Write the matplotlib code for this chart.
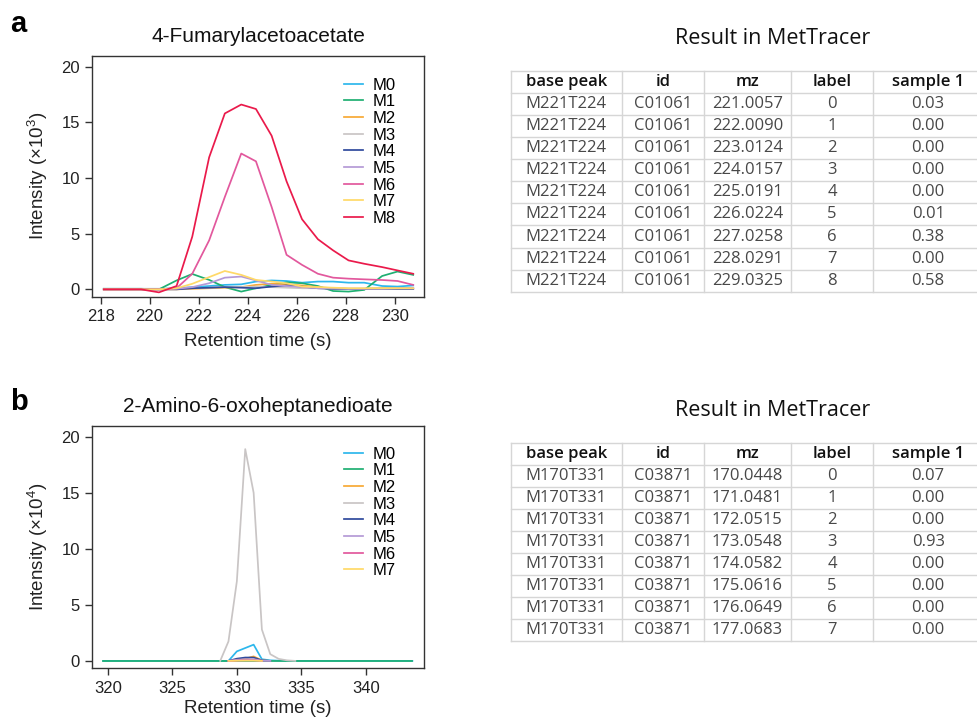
import numpy as np
import matplotlib
matplotlib.use('Agg')
import matplotlib.pyplot as plt

plt.rcParams['font.family'] = ['Liberation Sans', 'DejaVu Sans']
plt.rcParams['mathtext.fontset'] = 'custom'
plt.rcParams['mathtext.rm'] = 'Liberation Sans'

nan = np.nan

# ---- panel a: 4-Fumarylacetoacetate (intensity x10^3) ----
t_a = [218.13, 218.9, 219.65, 220.38, 221.10, 221.74, 222.43, 223.07, 223.74, 224.34,
       224.98, 225.59, 226.22, 226.87, 227.49, 228.12, 228.76, 229.49, 230.12, 230.76]
a_M0 = [0.05, 0.05, 0.05, 0.05, 0.1, 0.2, 0.3, 0.4, 0.45, 0.7, 0.8, 0.75, 0.6, 0.7, 0.7, 0.6, 0.6, 0.3, 0.25, 0.35]
a_M1 = [0.05, 0.05, 0.05, 0.0, 0.8, 1.38, 0.85, 0.2, -0.2, 0.1, 0.4, 0.63, 0.55, 0.3, -0.15, -0.2, -0.05, 1.2, 1.6, 1.3]
a_M2 = [0, 0, 0, 0, 0, 0.05, 0.1, 0.15, 0.2, 0.4, 0.5, 0.45, 0.35, 0.2, 0.1, 0.05, 0.05, 0.1, 0.1, 0.1]
a_M3 = [0, 0, 0, 0, 0.05, 0.1, 0.15, 0.2, 0.2, 0.25, 0.2, 0.15, 0.1, 0.1, 0.05, 0.05, 0.05, 0.05, 0.05, 0.05]
a_M4 = [0, 0, 0, 0, 0, 0.1, 0.15, 0.2, 0.15, 0.1, 0.25, 0.35, 0.25, 0.1, 0.05, 0.05, 0.05, 0.05, 0.05, 0.05]
a_M5 = [0, 0, 0, 0, 0.05, 0.2, 0.55, 1.05, 1.15, 0.8, 0.4, 0.3, 0.2, 0.1, 0.1, 0.05, 0.05, 0.05, 0.1, 0.1]
a_M6 = [0, 0, 0, 0, 0.1, 1.4, 4.4, 8.3, 12.2, 11.5, 7.4, 3.1, 2.2, 1.4, 1.05, 0.96, 0.9, 0.84, 0.75, 0.4]
a_M7 = [0, 0, 0, 0, 0.1, 0.5, 1.1, 1.65, 1.3, 0.85, 0.7, 0.55, 0.25, 0.2, 0.15, 0.1, 0.1, 0.1, 0.1, 0.1]
a_M8 = [0, 0, 0, -0.27, 0.3, 4.73, 11.86, 15.8, 16.6, 16.2, 13.8, 9.7, 6.3, 4.5, 3.5, 2.6, 2.3, 2.0, 1.7, 1.4]
series_a = [a_M0, a_M1, a_M2, a_M3, a_M4, a_M5, a_M6, a_M7, a_M8]

# ---- panel b: 2-Amino-6-oxoheptanedioate (intensity x10^4) ----
t_b = [319.65, 328.06, 328.71, 329.35, 330.0, 330.65, 331.3, 331.94, 332.59, 333.24, 333.88, 334.53, 343.6]
b_M0 = [0, 0, 0, 0, 0.85, 1.15, 1.45, 0.15, 0.05, 0.02, 0, 0, 0]
b_M1 = [0, 0, 0, 0, 0, 0, 0, 0, 0, 0, 0, 0, 0]
b_M2 = [nan, nan, nan, 0, 0.05, 0.2, 0.4, 0.05, 0, nan, nan, nan, nan]
b_M3 = [nan, nan, 0, 1.74, 7.1, 18.9, 15.0, 2.8, 0.6, 0.18, 0.05, 0, nan]
b_M4 = [nan, nan, nan, 0, 0.2, 0.3, 0.3, 0.05, 0, nan, nan, nan, nan]
b_M5 = [nan, nan, nan, 0, 0.1, 0.15, 0.15, 0.02, 0, nan, nan, nan, nan]
b_M6 = [nan, nan, nan, 0, 0.03, 0.05, 0.05, 0, nan, nan, nan, nan, nan]
b_M7 = [nan, nan, nan, 0, 0.02, 0.03, 0.03, 0, nan, nan, nan, nan, nan]
series_b = [b_M0, b_M1, b_M2, b_M3, b_M4, b_M5, b_M6, b_M7]

labels = ['M0', 'M1', 'M2', 'M3', 'M4', 'M5', 'M6', 'M7', 'M8']
colors = ['#2DB7EC', '#1FAF72', '#F7A935', '#C9C5C5', '#2F4A9C',
          '#B59AD6', '#E2589D', '#FFD968', '#EA1A4B']

# ---- tables ----
base_a = ['M221T224'] * 9
id_a = ['C01061'] * 9
mz_a = ['221.0057', '222.0090', '223.0124', '224.0157', '225.0191',
        '226.0224', '227.0258', '228.0291', '229.0325']
label_a = ['0', '1', '2', '3', '4', '5', '6', '7', '8']
sample_a = ['0.03', '0.00', '0.00', '0.00', '0.00', '0.01', '0.38', '0.00', '0.58']

base_b = ['M170T331'] * 8
id_b = ['C03871'] * 8
mz_b = ['170.0448', '171.0481', '172.0515', '173.0548', '174.0582',
        '175.0616', '176.0649', '177.0683']
label_b = ['0', '1', '2', '3', '4', '5', '6', '7']
sample_b = ['0.07', '0.00', '0.00', '0.93', '0.00', '0.00', '0.00', '0.00']

header = ['base peak', 'id', 'mz', 'label', 'sample 1']

W, H = 977, 722
fig = plt.figure(figsize=(W / 100, H / 100), dpi=100)


def px_axes(left, top, right, bottom):
    return fig.add_axes([left / W, 1 - bottom / H, (right - left) / W, (bottom - top) / H])


def style_chrom(ax, title, ylabel, xlim, ylim, xticks, label_top, leg_top):
    ax.set_xlim(*xlim)
    ax.set_ylim(*ylim)
    ax.set_xticks(xticks)
    ax.set_yticks([0, 5, 10, 15, 20])
    for s in ax.spines.values():
        s.set_color('#333333')
        s.set_linewidth(1.0)
    ax.tick_params(direction='out', length=5, width=1, color='#333333',
                   labelsize=12, labelcolor='#222222', pad=4)
    ax.set_title(title, fontsize=15, pad=10, color='#111111')
    ax.set_ylabel(ylabel, fontsize=13.5, color='#222222')
    ax.set_xlabel('Retention time (s)', fontsize=13.5, color='#222222')
    ax.yaxis.set_label_coords(-0.128, 0.5)
    ax.xaxis.set_label_coords(0.5, label_top)
    ax.legend(loc='upper left', bbox_to_anchor=(0.758, leg_top), frameon=False,
              fontsize=12, handlelength=1.15, handletextpad=0.6, labelspacing=0.1,
              borderpad=0, borderaxespad=0)


ax1 = px_axes(92.3, 56, 424, 296.7)
for ys, lab, c in zip(series_a, labels, colors):
    ax1.plot(t_a, ys, color=c, lw=1.25, label=lab)
style_chrom(ax1, '4-Fumarylacetoacetate', 'Intensity (×10$^{\\mathregular{3}}$)',
            (217.66, 231.2), (-0.66, 20.96), [218, 220, 222, 224, 226, 228, 230], -0.15, 0.91)

ax2 = px_axes(92.3, 426, 424, 668.3)
for ys, lab, c in zip(series_b, labels, colors):
    ax2.plot(t_b, ys, color=c, lw=1.25, label=lab)
style_chrom(ax2, '2-Amino-6-oxoheptanedioate', 'Intensity (×10$^{\\mathregular{4}}$)',
            (318.8, 344.5), (-0.66, 20.96), [320, 325, 330, 335, 340], -0.13, 0.915)

# panel letters
fig.text(10 / W, 1 - 24 / H, 'a', fontsize=21, fontweight='bold', va='center')
fig.text(10 / W, 1 - 402 / H, 'b', fontsize=21, fontweight='bold', va='center')

# tables drawn on a pixel-coordinate overlay
tab = fig.add_axes([0, 0, 1, 1])
tab.set_xlim(0, W)
tab.set_ylim(H, 0)
tab.axis('off')

col_edges = [510.7, 621.7, 704, 790.7, 873.3, 983]
tfont = ['Open Sans', 'DejaVu Sans']


def draw_table(top, row_h, cols, title_y):
    nrows = len(cols[0]) + 1
    bottom = top + nrows * row_h
    tab.text(773, title_y, 'Result in MetTracer', fontsize=15.5, ha='center', va='center',
             color='#111111', family=tfont)
    for i in range(nrows + 1):
        tab.plot([col_edges[0], col_edges[-1]], [top + i * row_h] * 2,
                 color='#D6D6D6', lw=1.0, clip_on=False)
    for x in col_edges:
        tab.plot([x, x], [top, bottom], color='#D6D6D6', lw=1.0, clip_on=False)
    centers = [(col_edges[j] + col_edges[j + 1]) / 2 for j in range(5)]
    for j, h in enumerate(header):
        tab.text(centers[j], top + row_h / 2, h, fontsize=12, ha='center', va='center',
                 color='#111111', fontweight='semibold', family=tfont)
    for j, col in enumerate(cols):
        for i, v in enumerate(col):
            tab.text(centers[j], top + (i + 1.5) * row_h, v, fontsize=12, ha='center',
                     va='center', color='#484848', family=tfont)


draw_table(71, 22.07, [base_a, id_a, mz_a, label_a, sample_a], 38)
draw_table(443.3, 21.93, [base_b, id_b, mz_b, label_b, sample_b], 410)

fig.savefig('out.png', dpi=100, facecolor='white')
